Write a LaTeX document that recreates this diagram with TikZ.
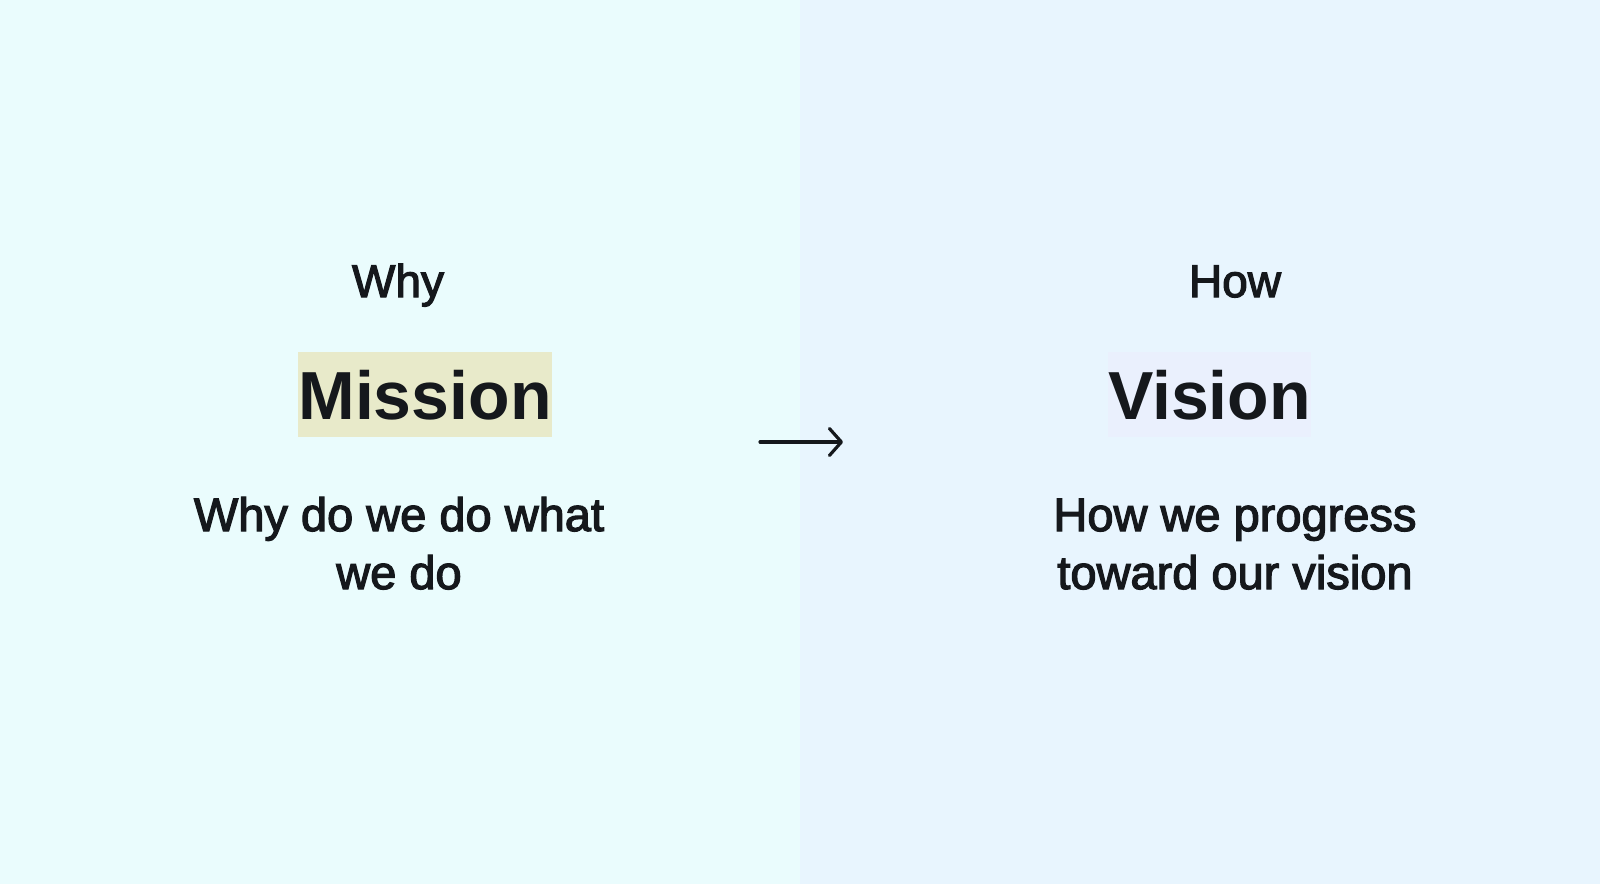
\documentclass[tikz,border=0pt]{standalone}
\usepackage{fontspec}
\setmainfont{Liberation Sans}
\newfontfamily\medfont{Liberation Sans}[FakeBold=2.6]
\usetikzlibrary{arrows.meta}
\definecolor{bgleft}{HTML}{EAFCFD}
\definecolor{bgright}{HTML}{E8F5FE}
\definecolor{missionfill}{HTML}{E8EACA}
\definecolor{visionfill}{HTML}{EAF0FD}
\definecolor{ink}{HTML}{15181C}
\tikzset{
  head/.style={font=\medfont\fontsize{46}{54}\selectfont, text=ink, anchor=base, inner sep=0},
  sub/.style={font=\medfont\fontsize{47}{58}\selectfont, text=ink, anchor=base, inner sep=0},
  title/.style={font=\fontsize{68}{80}\selectfont\bfseries, text=ink, inner sep=0,
    minimum height=85, text height=50, text depth=0},
  arr/.style={draw=ink, line width=3.2pt, line cap=round,
    -{Straight Barb[length=12pt,width=27pt,line width=3.2pt,round]}}
}
\begin{document}
\begin{tikzpicture}[x=1pt,y=-1pt]
\useasboundingbox (0,0) rectangle (1600,884);
\fill[bgleft] (0,0) rectangle (800,884);
\fill[bgright] (800,0) rectangle (1600,884);
% left column
\node[head] (why) at (398,297) {Why};
\node[title, fill=missionfill, minimum width=254] (mission) at (425,394.5) {Mission};
\node[sub] (whysub1) at (399,531) {Why do we do what};
\node[sub] (whysub2) at (399,589) {we do};
% right column
\node[head] (how) at (1235,297) {How};
\node[title, fill=visionfill, minimum width=203] (vision) at (1209.5,394.5) {Vision};
\node[sub] (howsub1) at (1235,531) {How we progress};
\node[sub] (howsub2) at (1235,589) {toward our vision};
% arrow
\coordinate (a1) at (760,442);
\coordinate (a2) at (843,442);
\draw[arr] (a1) -- (a2);
\end{tikzpicture}
\end{document}
